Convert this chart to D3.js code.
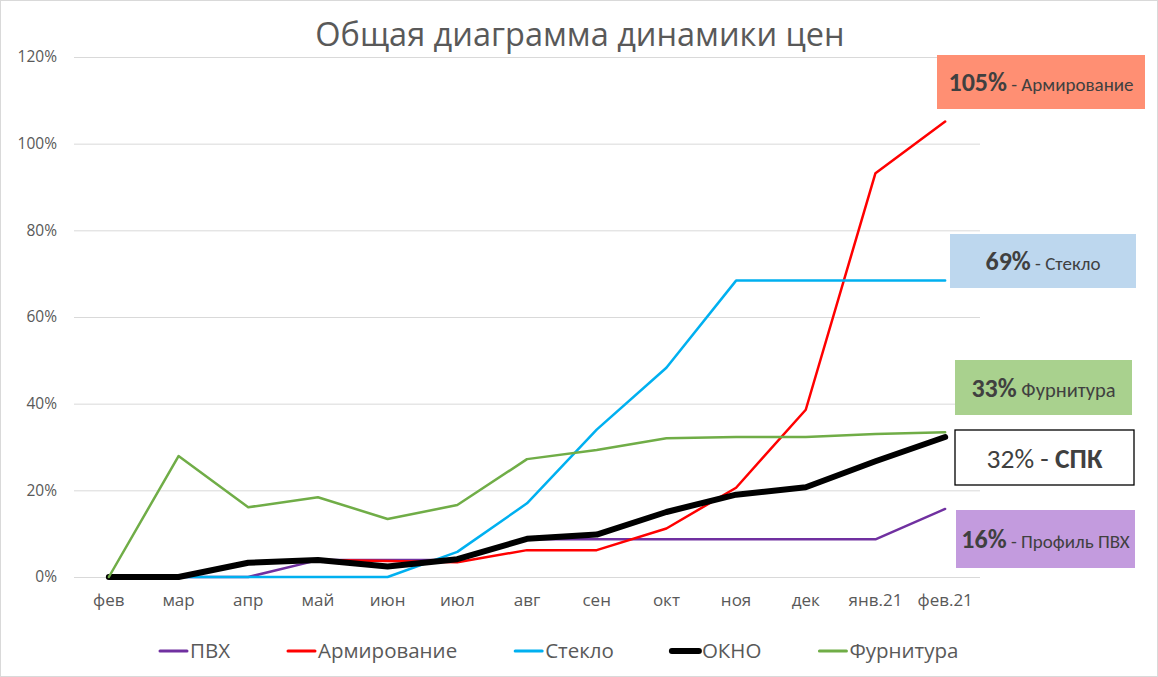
<!DOCTYPE html>
<html>
<head>
<meta charset="utf-8">
<script src="https://cdn.jsdelivr.net/npm/d3@7"></script>
<style>
  html, body { margin: 0; padding: 0; background: #fff; }
  svg { display: block; font-family: "Open Sans", sans-serif; }
  .callout { font-family: Carlito, Calibri, Lato, sans-serif; }
</style>
</head>
<body>
<div class="container"></div>
<script>
(function(d3) {
  "use strict";

  var months = ["фев", "мар", "апр", "май", "июн", "июл", "авг", "сен", "окт", "ноя", "дек", "янв.21", "фев.21"];

  var pvh      = [0, 0, 0, 3.9, 3.9, 3.9, 8.7, 8.7, 8.7, 8.7, 8.7, 8.7, 15.7];
  var armir    = [0, 0, 3.3, 3.9, 3.7, 3.4, 6.2, 6.2, 11.2, 20.6, 38.6, 93.2, 105.1];
  var steklo   = [0, 0, 0, 0, 0, 5.8, 17.0, 34.0, 48.3, 68.4, 68.4, 68.4, 68.4];
  var okno     = [0, 0, 3.3, 3.9, 2.4, 4.1, 8.8, 9.8, 15.0, 19.0, 20.7, 26.7, 32.3];
  var furnit   = [0, 27.9, 16.1, 18.4, 13.4, 16.6, 27.2, 29.3, 32.0, 32.3, 32.3, 33.0, 33.4];

  var seriesNames = ["ПВХ", "Армирование", "Стекло", "ОКНО", "Фурнитура"];
  var yTicks = [0, 20, 40, 60, 80, 100, 120];

  // callout texts on the right
  var calloutValues = ["105%", "69%", "33%", "32%", "16%"];
  var calloutNames = [" - Армирование", " - Стекло", " Фурнитура", " - ", " - Профиль ПВХ"];

  var seriesStyle = [
    { color: "#7030A0", width: 2.5 },
    { color: "#FF0000", width: 2.5 },
    { color: "#00B0F0", width: 2.5 },
    { color: "#000000", width: 6 },
    { color: "#70AD47", width: 2.5 }
  ];

  var calloutBoxes = [
    { x: 937, y: 55,  w: 208, h: 54, fill: "#FF8F73", stroke: "none", big: 26, small: 19, bold: true },
    { x: 950, y: 234, w: 186, h: 54, fill: "#BDD7EE", stroke: "none", big: 26, small: 19, bold: true },
    { x: 955, y: 360, w: 177, h: 55, fill: "#A9D18E", stroke: "none", big: 26, small: 20.5, bold: true },
    { x: 955, y: 430, w: 179, h: 55, fill: "#FFFFFF", stroke: "#000", big: 27.5, small: 27.5, bold: false },
    { x: 956, y: 510, w: 179, h: 58, fill: "#C39BDE", stroke: "none", big: 26, small: 19, bold: true }
  ];

  var W = 1158, H = 677;
  var plot = { left: 74, right: 980, top: 57, bottom: 577 };

  var svg = d3.select(".container").append("svg")
      .attr("width", W)
      .attr("height", H);

  svg.append("rect")
      .attr("x", 0.5).attr("y", 0.5)
      .attr("width", W - 1).attr("height", H - 1)
      .attr("fill", "#fff")
      .attr("stroke", "#d9d9d9");

  var x = d3.scaleBand()
      .domain(months)
      .range([plot.left, plot.right]);

  var y = d3.scaleLinear()
      .domain([0, 120])
      .range([plot.bottom, plot.top]);

  function cx(d) { return x(d) + x.bandwidth() / 2; }

  // grid + y labels
  var yAxis = d3.axisLeft(y)
      .tickValues(yTicks)
      .tickSize(-(plot.right - plot.left))
      .tickPadding(17)
      .tickFormat(function(d) { return d + "%"; });

  var gy = svg.append("g")
      .attr("transform", "translate(" + plot.left + ",0)")
      .call(yAxis);
  gy.select(".domain").remove();
  gy.selectAll(".tick line").attr("stroke", "#d9d9d9").attr("stroke-width", 1);
  gy.selectAll(".tick text")
      .attr("fill", "#595959")
      .style("font-family", "'Open Sans', sans-serif")
      .style("font-size", "15.5px");

  // x labels
  var xAxis = d3.axisBottom(x).tickSize(0);
  var gx = svg.append("g")
      .attr("transform", "translate(0," + y(0) + ")")
      .call(xAxis);
  gx.select(".domain").remove();
  gx.selectAll(".tick text")
      .attr("y", 29)
      .attr("dy", 0)
      .attr("fill", "#595959")
      .style("font-family", "'Open Sans', sans-serif")
      .style("font-size", "17px");

  // lines
  var data = [pvh, armir, steklo, okno, furnit];
  var line = d3.line()
      .x(function(d, i) { return cx(months[i]); })
      .y(function(d) { return y(d); });

  svg.append("g").selectAll("path")
      .data(d3.range(data.length))
    .enter().append("path")
      .attr("d", function(k) { return line(data[k]); })
      .attr("fill", "none")
      .attr("stroke", function(k) { return seriesStyle[k].color; })
      .attr("stroke-width", function(k) { return seriesStyle[k].width; })
      .attr("stroke-linejoin", "round")
      .attr("stroke-linecap", "round");

  // title
  svg.append("text")
      .attr("x", 580)
      .attr("y", 46)
      .attr("text-anchor", "middle")
      .attr("fill", "#595959")
      .style("font-size", "32.5px")
      .text("Общая диаграмма динамики цен");

  // callouts
  var call = svg.append("g").attr("class", "callout").selectAll("g")
      .data(calloutBoxes)
    .enter().append("g");

  call.append("rect")
      .attr("x", function(d) { return d.x; })
      .attr("y", function(d) { return d.y; })
      .attr("width", function(d) { return d.w; })
      .attr("height", function(d) { return d.h; })
      .attr("fill", function(d) { return d.fill; })
      .attr("stroke", function(d) { return d.stroke; })
      .attr("stroke-width", 1.3);

  var ct = call.append("text")
      .attr("x", function(d) { return d.x + d.w / 2; })
      .attr("y", function(d, i) { return d.y + d.h / 2 + (i === 3 ? 10 : 9); })
      .attr("text-anchor", "middle")
      .attr("fill", "#404040");

  ct.append("tspan")
      .style("font-weight", function(d) { return d.bold ? "bold" : "normal"; })
      .style("font-size", function(d) { return d.big + "px"; })
      .text(function(d, i) { return calloutValues[i]; });

  ct.append("tspan")
      .style("font-size", function(d) { return d.small + "px"; })
      .style("font-weight", "normal")
      .text(function(d, i) { return calloutNames[i]; });

  ct.filter(function(d, i) { return i === 3; }).append("tspan")
      .style("font-size", "27.5px")
      .style("font-weight", "bold")
      .text("СПК");

  // legend
  var legend = svg.append("g").attr("transform", "translate(0,651)");
  var lx = 160;
  seriesNames.forEach(function(name, i) {
    var item = legend.append("g").attr("transform", "translate(" + lx + ",0)");
    item.append("line")
        .attr("x1", 0).attr("x2", 27)
        .attr("y1", 0).attr("y2", 0)
        .attr("stroke", seriesStyle[i].color)
        .attr("stroke-width", i === 3 ? 6 : 3)
        .attr("stroke-linecap", "round");
    var t = item.append("text")
        .attr("x", 30)
        .attr("y", 7)
        .attr("fill", "#595959")
        .style("font-size", "20.5px")
        .text(name);
    lx += 30 + t.node().getComputedTextLength() + 58;
  });

}(d3));
</script>
</body>
</html>
